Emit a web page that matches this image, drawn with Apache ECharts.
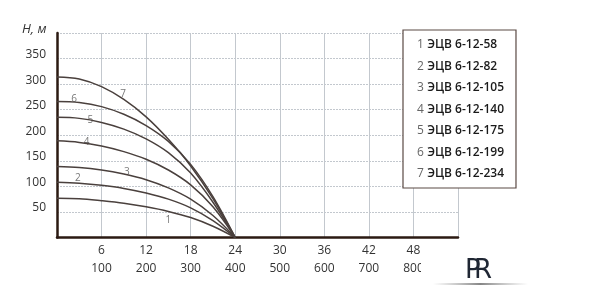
<!DOCTYPE html>
<html><head><meta charset="utf-8">
<script src="https://cdn.jsdelivr.net/npm/echarts@6/dist/echarts.min.js"></script>
<style>html,body{margin:0;padding:0;background:#fff}#c{width:610px;height:303px}</style>
</head><body><div id="c"></div>
<script>
// Flow (m3/h) sample points
const flowQ = [0, 3, 6, 9, 12, 15, 18, 21, 24];
// Head (m) per pump model
const head1 = [77, 76, 72, 67, 60, 51, 39, 22, 0];
const head2 = [108, 106, 102, 96, 87, 75, 58, 33, 0];
const head3 = [139, 137, 132, 124, 113, 97, 75, 43, 0];
const head4 = [189, 186, 179, 168, 153, 132, 103, 60, 0];
const head5 = [235, 233, 225, 212, 193, 166, 126, 69, 0];
const head6 = [266, 264, 256, 241, 219, 188, 143, 80, 0];
const head7 = [314, 310, 295, 270, 236, 192, 140, 76, 0];
const heads = [head1, head2, head3, head4, head5, head6, head7];
const modelNames = ['ЭЦВ 6-12-58','ЭЦВ 6-12-82','ЭЦВ 6-12-105','ЭЦВ 6-12-140','ЭЦВ 6-12-175','ЭЦВ 6-12-199','ЭЦВ 6-12-234'];
const curveNumbers = ['1','2','3','4','5','6','7'];
// curve number label anchors (Q, H)
const labelQ = [15, 2.8, 9.4, 4, 4.5, 2.3, 8.9];
const labelH = [34, 117, 128, 187, 230, 271, 280];

const FONT = 'Open Sans';
const series = heads.map((h, i) => ({
  name: modelNames[i],
  type: 'line',
  smooth: 0.35,
  symbol: 'none',
  data: flowQ.map((q, j) => [q, h[j]]),
  lineStyle: { color: '#4a403d', width: 1.5 },
  itemStyle: { color: '#4a403d' }
}));
series.push({
  type: 'scatter', symbolSize: 0, silent: true,
  data: labelQ.map((q, i) => [q, labelH[i], curveNumbers[i]]),
  label: { show: true, position: 'inside', formatter: p => p.data[2], color: '#555', fontSize: 10, fontFamily: FONT }
});

const chart = echarts.init(document.getElementById('c'), null, { renderer: 'canvas' });
chart.setOption({
  animation: false,
  grid: { left: 57, right: 152, top: 33, bottom: 65.5 },
  xAxis: [{
    type: 'value', min: 0, max: 54, interval: 6,
    axisLine: { show: true, onZero: false, lineStyle: { color: '#2b1a12', width: 2.5 } },
    axisTick: { show: false },
    splitLine: { show: true, lineStyle: { color: '#c3c8ce', width: 1 } },
    axisLabel: { margin: 7, color: '#333', fontSize: 12, fontFamily: FONT,
      formatter: v => (v === 0 || v === 54) ? '' : String(v) }
  }, {
    type: 'value', min: 0, max: 900, interval: 100, position: 'bottom', offset: 18,
    axisLine: { show: false }, axisTick: { show: false }, splitLine: { show: false },
    axisLabel: { margin: 7, color: '#333', fontSize: 12, fontFamily: FONT,
      formatter: v => (v === 0 || v === 900) ? '' : String(v) }
  }],
  yAxis: {
    type: 'value', min: 0, max: 400, interval: 50,
    axisLine: { show: true, lineStyle: { color: '#2b1a12', width: 2.5 } },
    axisTick: { show: false },
    splitLine: { show: true, lineStyle: { color: '#c3c8ce', width: 1, type: [2, 1] } },
    axisLabel: { margin: 11, color: '#333', fontSize: 12, fontFamily: FONT, verticalAlign: 'bottom', lineHeight: 8,
      formatter: v => (v === 0 || v === 400) ? '' : String(v) }
  },
  legend: {
    data: modelNames, orient: 'vertical', left: 403, top: 30,
    icon: 'none', itemWidth: 0, itemHeight: 14, itemGap: 8.5,
    padding: [8, 12, 8, 9],
    backgroundColor: '#fff', borderColor: '#5a4a44', borderWidth: 1.2,
    selectedMode: false,
    formatter: name => '{n|' + (modelNames.indexOf(name) + 1) + '} {t|' + name + '}',
    textStyle: { rich: {
      n: { color: '#666', fontSize: 12, fontFamily: FONT },
      t: { color: '#1a1a1a', fontSize: 12, fontFamily: FONT, fontWeight: 600 }
    } }
  },
  graphic: [
    { type: 'text', left: 22, top: 23, style: { text: 'H, м', fontStyle: 'italic', fontSize: 13, fontFamily: FONT, fill: '#333' } },
    { type: 'rect', left: 421, top: 243, shape: { width: 189, height: 60 }, style: { fill: '#fff' }, z: 100 },
    { type: 'rect', left: 433, top: 283, shape: { width: 95, height: 2 }, z: 101,
      style: { fill: new echarts.graphic.LinearGradient(0, 0, 1, 0, [
        { offset: 0, color: 'rgba(150,150,150,0)' }, { offset: 0.5, color: 'rgba(120,120,120,0.9)' }, { offset: 1, color: 'rgba(150,150,150,0)' }]) } },
    { type: 'text', left: 465, top: 258, z: 102, style: { text: 'P', fontSize: 26, fontFamily: 'DejaVu Sans', fill: '#1f2633' } },
    { type: 'text', left: 474, top: 258, z: 102, style: { text: 'R', fontSize: 26, fontFamily: 'DejaVu Sans', fill: '#1f2633' } }
  ],
  series: series
});
</script></body></html>
